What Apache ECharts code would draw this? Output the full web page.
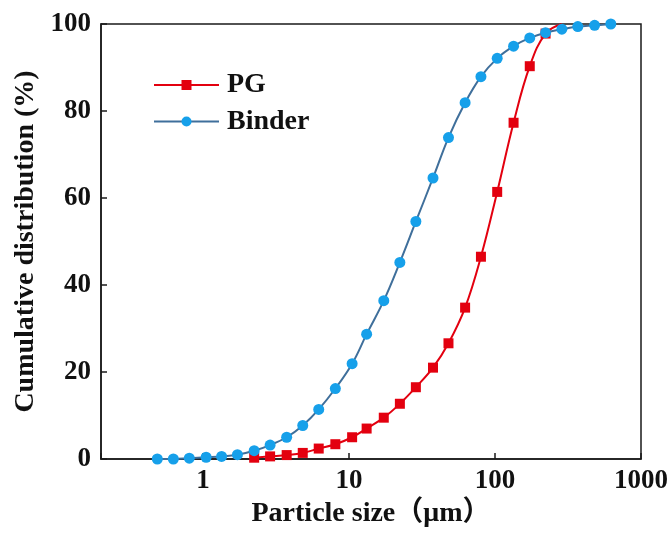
<!DOCTYPE html>
<html>
<head>
<meta charset="utf-8">
<script src="https://cdn.jsdelivr.net/npm/echarts@6/dist/echarts.min.js"></script>
<style>
  html, body { margin: 0; padding: 0; background: #fff; }
  #chart { width: 672px; height: 536px; }
</style>
</head>
<body>
<div id="chart"></div>
<script>
// Particle sizes (μm) and cumulative distribution (%)
const pgSizes    = [2.24, 2.88, 3.74, 4.82, 6.2, 8.06, 10.5, 13.2, 17.3, 22.3, 28.7, 37.6, 48, 62.4, 80.1, 103.5, 134, 173, 222, 287];
const pgValues   = [0.3, 0.6, 0.9, 1.4, 2.4, 3.4, 5.0, 7.0, 9.5, 12.7, 16.5, 21.0, 26.6, 34.8, 46.5, 61.4, 77.3, 90.3, 97.8, 100];
const binderSizes  = [0.486, 0.626, 0.805, 1.05, 1.34, 1.72, 2.24, 2.88, 3.74, 4.82, 6.2, 8.06, 10.5, 13.2, 17.3, 22.3, 28.7, 37.6, 48, 62.4, 80.1, 103.5, 134, 173, 222, 287, 369, 481, 621];
const binderValues = [0, 0, 0.2, 0.4, 0.6, 1.0, 1.9, 3.2, 5.0, 7.7, 11.4, 16.2, 21.9, 28.7, 36.4, 45.2, 54.6, 64.6, 73.9, 81.9, 87.9, 92.1, 94.9, 96.8, 98.0, 98.8, 99.4, 99.7, 100];
const xTickLabels = ['1', '10', '100', '1000'];
const yTickLabels = ['0', '20', '40', '60', '80', '100'];
const seriesNames = ['PG', 'Binder'];

const FONT = '"Liberation Serif", "Times New Roman", "Noto Sans CJK SC", serif';

function pairs(xs, ys) {
  return xs.map((x, i) => [x, ys[i]]);
}
const pgData = pairs(pgSizes, pgValues).map((p, i, arr) =>
  i === arr.length - 1 ? { value: p, symbol: 'none' } : p);
const binderData = pairs(binderSizes, binderValues);

const chart = echarts.init(document.getElementById('chart'), null, { renderer: 'canvas' });
chart.setOption({
  animation: false,
  backgroundColor: '#ffffff',
  grid: {
    left: 101, right: 31, top: 24, bottom: 77,
    show: true, borderColor: '#1a1a1a', borderWidth: 1.5, backgroundColor: 'transparent'
  },
  legend: {
    data: seriesNames,
    orient: 'vertical',
    left: 153, top: 71,
    padding: 0,
    itemWidth: 65, itemHeight: 12.5, itemGap: 8.5,
    textStyle: { fontFamily: FONT, fontWeight: 'bold', fontSize: 28, lineHeight: 28, color: '#111', padding: [0, 0, 0, 3] }
  },
  xAxis: {
    type: 'log', logBase: 10, min: 0.2, max: 1000,
    name: 'Particle size（μm）', nameLocation: 'middle', nameGap: 38,
    nameTextStyle: { fontFamily: FONT, fontWeight: 'bold', fontSize: 28, color: '#111' },
    axisLine: { show: true, lineStyle: { color: '#1a1a1a', width: 1.5 } },
    axisTick: { show: true, inside: true, length: 6, lineStyle: { color: '#1a1a1a', width: 1.5 } },
    minorTick: { show: false },
    splitLine: { show: false },
    axisLabel: {
      margin: 9,
      fontFamily: FONT, fontWeight: 'bold', fontSize: 27, color: '#111',
      formatter: function (v) {
        const s = String(Math.round(v * 1000) / 1000);
        return xTickLabels.indexOf(s) >= 0 ? s : '';
      }
    }
  },
  yAxis: {
    type: 'value', min: 0, max: 100, interval: 20,
    name: 'Cumulative distribution (%)', nameLocation: 'middle', nameGap: 57,
    nameTextStyle: { fontFamily: FONT, fontWeight: 'bold', fontSize: 28, color: '#111' },
    axisLine: { show: true, lineStyle: { color: '#1a1a1a', width: 1.5 } },
    axisTick: { show: true, inside: true, length: 6, lineStyle: { color: '#1a1a1a', width: 1.5 } },
    splitLine: { show: false },
    axisLabel: {
      margin: 10,
      fontFamily: FONT, fontWeight: 'bold', fontSize: 27, color: '#111',
      formatter: function (v) { return yTickLabels[Math.round(v / 20)]; }
    }
  },
  series: [
    {
      name: seriesNames[0], type: 'line', data: pgData,
      smooth: 0.4, symbol: 'rect', symbolSize: 10,
      lineStyle: { color: '#e3000f', width: 2 },
      itemStyle: { color: '#e3000f' }
    },
    {
      name: seriesNames[1], type: 'line', data: binderData,
      smooth: 0.4, symbol: 'circle', symbolSize: 11,
      lineStyle: { color: '#3f6f9b', width: 2 },
      itemStyle: { color: '#16a0ea' }
    }
  ]
});
</script>
</body>
</html>
